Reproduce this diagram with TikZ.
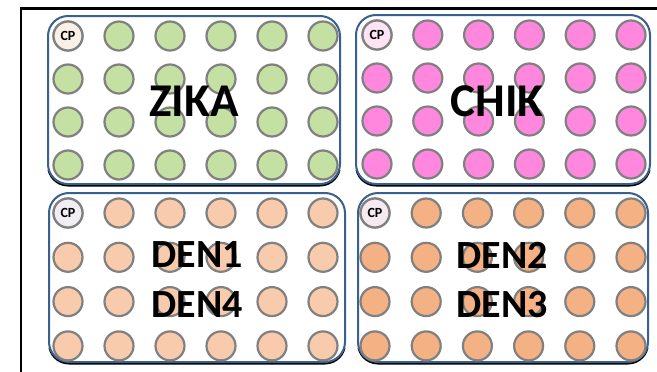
\documentclass[tikz,border=0pt]{standalone}
\usepackage{fontspec}
\newfontfamily\carl{Carlito}
\definecolor{boxblue}{RGB}{58,96,142}
\definecolor{wellgray}{RGB}{128,128,128}
\definecolor{zgreen}{RGB}{196,224,162}
\definecolor{cpink}{RGB}{255,136,222}
\definecolor{dpeach}{RGB}{248,203,173}
\definecolor{dorange}{RGB}{244,177,131}
\definecolor{cpz}{RGB}{251,240,230}
\definecolor{cpc}{RGB}{252,228,244}
\definecolor{cpd}{RGB}{240,238,244}
\definecolor{cpe}{RGB}{246,234,240}
\tikzset{
  well/.style={circle, draw=wellgray, line width=2.2pt, minimum size=29pt, inner sep=0pt},
  platebox/.style={draw=boxblue, line width=2pt, rounded corners=20pt},
  plateshadow/.style={draw=black, line width=2pt, rounded corners=20pt},
  bigtext/.style={font=\carl\bfseries\fontsize{47}{47}\selectfont, inner sep=0pt},
  midtext/.style={font=\carl\bfseries\fontsize{40}{40}\selectfont, inner sep=0pt},
  cptext/.style={font=\carl\bfseries\fontsize{14}{14}\selectfont}
}
\begin{document}
\begin{tikzpicture}[x=1pt,y=-1pt]
\useasboundingbox (0,0) rectangle (657,372);
\fill[white] (0,0) rectangle (657,372);
% outer frame
\coordinate (fa) at (660,8.5);
\coordinate (fb) at (21,8.5);
\coordinate (fc) at (21,375);
\draw[line width=2.2pt] (fa) -- (fb) -- (fc);
% plate shadows (bottom only)
\begin{scope}
\clip (40,170) rectangle (660,190);
\draw[plateshadow] (48,17.5) rectangle (340,185.5);
\draw[plateshadow] (356,16.5) rectangle (650,185.5);
\end{scope}
\begin{scope}
\clip (40,348) rectangle (660,372);
\draw[plateshadow] (49,194.5) rectangle (345,363.5);
\draw[plateshadow] (358,194.5) rectangle (648,363.5);
\end{scope}
\node[platebox, minimum width=292pt, minimum height=168pt, inner sep=0pt] (zbox) at (194,100) {};
\node[platebox, minimum width=294pt, minimum height=169pt, inner sep=0pt] (cbox) at (503,99.5) {};
\node[platebox, minimum width=296pt, minimum height=169pt, inner sep=0pt] (d1box) at (197,277.5) {};
\node[platebox, minimum width=290pt, minimum height=169pt, inner sep=0pt] (d2box) at (503,277.5) {};
% wells
\foreach \r in {0,1,2,3}{
  \foreach \c in {0,...,5}{
    \node[well, fill=zgreen] (z-\r-\c) at (68+51*\c, 36+43*\r) {};
    \node[well, fill=cpink] (k-\r-\c) at (377+50.8*\c, 35+43*\r) {};
    \node[well, fill=dpeach] (a-\r-\c) at (68+51*\c, 213+44.3*\r) {};
    \node[well, fill=dorange] (b-\r-\c) at (375+51.2*\c, 213+44.3*\r) {};
  }
}
\node[well, fill=cpz, cptext] (zcp) at (68,36) {CP};
\node[well, fill=cpc, cptext] (kcp) at (377,35) {CP};
\node[well, fill=cpd, cptext] (acp) at (68,213) {CP};
\node[well, fill=cpe, cptext] (bcp) at (375,213) {CP};
% labels
\node[bigtext] (zika) at (194,101) {ZIKA};
\node[bigtext] (chik) at (497,101) {CHIK};
\node[midtext] (den1) at (197,255) {DEN1};
\node[midtext] (den4) at (197,305) {DEN4};
\node[midtext] (den2) at (502,255) {DEN2};
\node[midtext] (den3) at (502,305) {DEN3};
\end{tikzpicture}
\end{document}
